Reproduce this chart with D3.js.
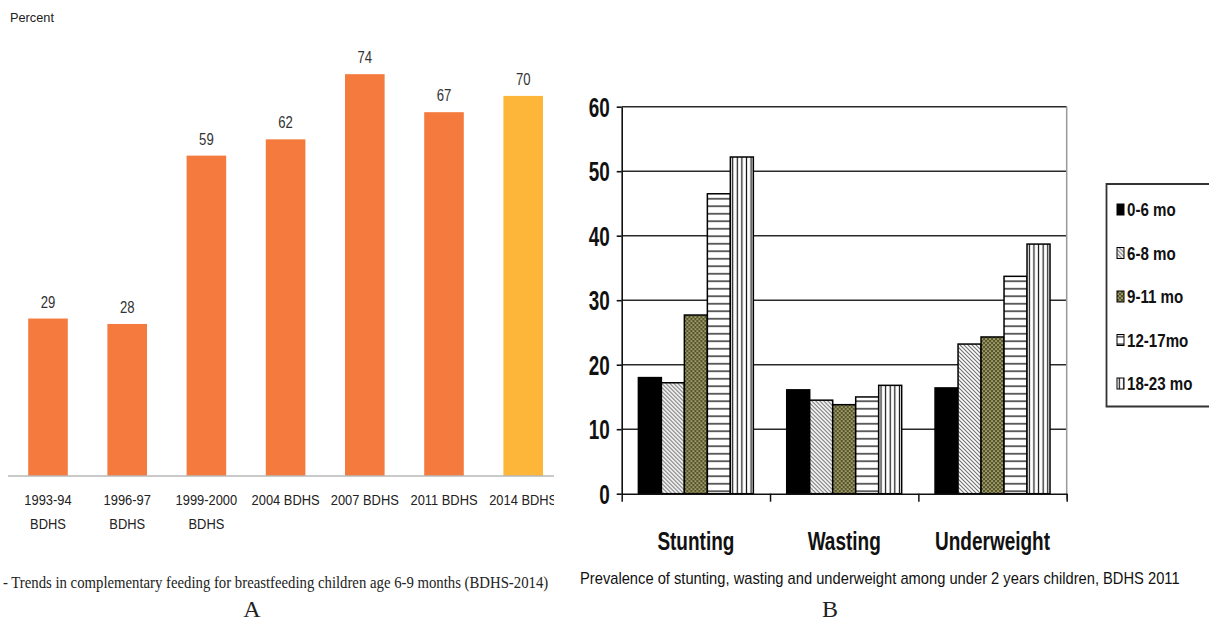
<!DOCTYPE html>
<html>
<head>
<meta charset="utf-8">
<script src="https://cdn.jsdelivr.net/npm/d3@7"></script>
<style>
  html, body { margin: 0; padding: 0; background: #fff; }
  svg { display: block; }
</style>
</head>
<body>
<svg id="fig" width="1209" height="623"></svg>
<script>
// ---- Panel A: complementary feeding trend ----
const surveys = ["1993-94\nBDHS", "1996-97\nBDHS", "1999-2000\nBDHS", "2004 BDHS", "2007 BDHS", "2011 BDHS", "2014 BDHS"];
const feedingPct = [29, 28, 59, 62, 74, 67, 70];
const feedingColors = ["#f47a3d", "#f47a3d", "#f47a3d", "#f47a3d", "#f47a3d", "#f47a3d", "#fdb53a"];

// ---- Panel B: undernutrition by age group ----
const indicators = ["Stunting", "Wasting", "Underweight"];
const ageGroups = ["0-6 mo", "6-8 mo", "9-11 mo", "12-17mo", "18-23 mo"];
const age0to6 = [18.0, 16.1, 16.4];
const age6to8 = [17.2, 14.5, 23.2];
const age9to11 = [27.7, 13.8, 24.3];
const age12to17 = [46.5, 15.0, 33.7];
const age18to23 = [52.2, 16.8, 38.7];
const yTicksB = [0, 10, 20, 30, 40, 50, 60];

const svg = d3.select("#fig");
const defs = svg.append("defs");

// fill patterns for the age groups
const hatch = defs.append("pattern").attr("id", "pHatch").attr("patternUnits", "userSpaceOnUse")
  .attr("width", 4).attr("height", 4);
hatch.append("rect").attr("width", 4).attr("height", 4).attr("fill", "#fff");
hatch.append("path").attr("d", "M-1,-1L5,5M-1,3L1,5M3,-1L5,1").attr("stroke", "#6e6e6e").attr("stroke-width", 1.1);

const dots = defs.append("pattern").attr("id", "pDots").attr("patternUnits", "userSpaceOnUse")
  .attr("width", 4).attr("height", 4);
dots.append("rect").attr("width", 4).attr("height", 4).attr("fill", "#57562a");
dots.append("circle").attr("cx", 1).attr("cy", 1).attr("r", 0.85).attr("fill", "#d4d0a0");
dots.append("circle").attr("cx", 3).attr("cy", 3).attr("r", 0.85).attr("fill", "#d4d0a0");

const hlines = defs.append("pattern").attr("id", "pHoriz").attr("patternUnits", "userSpaceOnUse")
  .attr("width", 10).attr("height", 7.5);
hlines.append("rect").attr("width", 10).attr("height", 7.5).attr("fill", "#fff");
hlines.append("line").attr("x1", 0).attr("x2", 10).attr("y1", 3.75).attr("y2", 3.75)
  .attr("stroke", "#111").attr("stroke-width", 1.3);

const vlines = defs.append("pattern").attr("id", "pVert").attr("patternUnits", "userSpaceOnUse")
  .attr("width", 4.6).attr("height", 10);
vlines.append("rect").attr("width", 4.6).attr("height", 10).attr("fill", "#fff");
vlines.append("line").attr("x1", 2.3).attr("x2", 2.3).attr("y1", 0).attr("y2", 10)
  .attr("stroke", "#111").attr("stroke-width", 1.2);

const ageFills = ["#000", "url(#pHatch)", "url(#pDots)", "url(#pHoriz)", "url(#pVert)"];

defs.append("clipPath").attr("id", "clipA").append("rect")
  .attr("x", 0).attr("y", 0).attr("width", 554).attr("height", 560);

// squeeze a text horizontally so that it spans the given width
function fitWidth(sel, width) {
  const len = sel.node().getComputedTextLength();
  return len > 0 ? width / len : 1;
}

// ================= Panel A =================
const gA = svg.append("g").attr("clip-path", "url(#clipA)");

const xA = d3.scaleBand().domain(surveys).range([8.4, 562.8]).paddingInner(0.5).paddingOuter(0.25);
const yA = d3.scaleLinear().domain([0, 80]).range([476, 41.6]);

gA.append("text").attr("x", 10).attr("y", 22)
  .attr("font-family", "Liberation Sans, Arial, sans-serif").attr("font-size", 12).attr("fill", "#222")
  .attr("textLength", 44).attr("lengthAdjust", "spacingAndGlyphs")
  .text("Percent");

gA.selectAll("rect.barA").data(surveys).join("rect").attr("class", "barA")
  .attr("x", d => xA(d)).attr("width", xA.bandwidth())
  .attr("y", (d, i) => yA(feedingPct[i])).attr("height", (d, i) => yA(0) - yA(feedingPct[i]))
  .attr("fill", (d, i) => feedingColors[i]);

gA.selectAll("g.valA").data(surveys).join("g").attr("class", "valA")
  .attr("transform", (d, i) => `translate(${xA(d) + xA.bandwidth() / 2},${yA(feedingPct[i]) - 11}) scale(0.82,1)`)
  .append("text").attr("text-anchor", "middle")
  .attr("font-family", "Liberation Sans, Arial, sans-serif").attr("font-size", 16).attr("fill", "#333")
  .text((d, i) => feedingPct[i]);

const axA = gA.append("g").attr("transform", `translate(0,${yA(0)})`)
  .call(d3.axisBottom(xA).tickSize(0).tickSizeOuter(0).tickFormat(""));
axA.select(".domain").attr("stroke", "#b9b9b9").attr("stroke-width", 1.5)
  .attr("d", `M8,0H562`);

const tickA = gA.selectAll("g.tickA").data(surveys).join("g").attr("class", "tickA")
  .attr("transform", d => `translate(${xA(d) + xA.bandwidth() / 2},0) scale(0.86,1)`);
tickA.each(function (d) {
  const lines = d.split("\n");
  d3.select(this).selectAll("text").data(lines).join("text")
    .attr("x", 0).attr("y", (l, j) => 505 + j * 24)
    .attr("text-anchor", "middle")
    .attr("font-family", "Liberation Sans, Arial, sans-serif").attr("font-size", 15).attr("fill", "#222")
    .text(l => l);
});

const capAg = svg.append("g");
const capA = capAg.append("text").attr("x", 0).attr("y", 0)
  .attr("font-family", "Liberation Serif, Times New Roman, serif").attr("font-size", 16).attr("fill", "#222")
  .text("- Trends in complementary feeding for breastfeeding children age 6-9 months (BDHS-2014)");
capAg.attr("transform", `translate(3,588) scale(${fitWidth(capA, 546)},1)`);

svg.append("text").attr("x", 252).attr("y", 617).attr("text-anchor", "middle")
  .attr("font-family", "Liberation Serif, Times New Roman, serif").attr("font-size", 24).attr("fill", "#222")
  .text("A");

// ================= Panel B =================
const left = 621.7, right = 1066.7;
const x0 = d3.scaleBand().domain(indicators).range([left, right]).paddingInner(0.225).paddingOuter(0.1125);
const x1 = d3.scaleBand().domain(ageGroups).range([0, x0.bandwidth()]);
const yB = d3.scaleLinear().domain([0, 60]).range([493.7, 106.7]);
const seriesB = [age0to6, age6to8, age9to11, age12to17, age18to23];

const gB = svg.append("g");

// horizontal gridlines
gB.selectAll("line.grid").data(yTicksB.filter(t => t > 0)).join("line").attr("class", "grid")
  .attr("x1", left).attr("x2", right).attr("y1", d => yB(d)).attr("y2", d => yB(d))
  .attr("stroke", "#2a2a2a").attr("stroke-width", 1.6);

// right frame edge
gB.append("line").attr("x1", right).attr("x2", right).attr("y1", yB(60)).attr("y2", yB(0) + 6)
  .attr("stroke", "#9a9a9a").attr("stroke-width", 1.5);

// grouped bars
const groups = gB.selectAll("g.grp").data(indicators).join("g").attr("class", "grp")
  .attr("transform", d => `translate(${x0(d)},0)`);
groups.each(function (ind, gi) {
  d3.select(this).selectAll("rect").data(ageGroups).join("rect")
    .attr("x", a => x1(a)).attr("width", x1.bandwidth())
    .attr("y", (a, si) => yB(seriesB[si][gi]))
    .attr("height", (a, si) => yB(0) - yB(seriesB[si][gi]))
    .attr("fill", (a, si) => ageFills[si])
    .attr("stroke", "#000").attr("stroke-width", 1.5);
});

// left axis
const axL = gB.append("g").attr("transform", `translate(${left},0)`)
  .call(d3.axisLeft(yB).tickValues(yTicksB).tickSize(5).tickSizeOuter(0));
axL.select(".domain").attr("stroke", "#111").attr("stroke-width", 1.6);
axL.selectAll(".tick line").attr("stroke", "#111").attr("stroke-width", 1.6);
axL.selectAll(".tick text")
  .attr("x", 0).attr("dy", "0.36em")
  .attr("transform", "translate(-12,0) scale(0.7,1)")
  .attr("font-family", "Liberation Sans, Arial, sans-serif").attr("font-size", 27).attr("font-weight", "bold")
  .attr("fill", "#111");

// bottom axis with ticks on group boundaries
const xEdge = d3.scaleLinear().domain([0, indicators.length]).range([left, right]);
const axBot = gB.append("g").attr("transform", `translate(0,${yB(0)})`)
  .call(d3.axisBottom(xEdge).tickValues(d3.range(indicators.length + 1)).tickSize(8).tickSizeOuter(0).tickFormat(""));
axBot.select(".domain").attr("stroke", "#111").attr("stroke-width", 1.6);
axBot.selectAll(".tick line").attr("stroke", "#111").attr("stroke-width", 1.5);

// category labels
gB.selectAll("g.catB").data(indicators).join("g").attr("class", "catB")
  .attr("transform", d => `translate(${x0(d) + x0.bandwidth() / 2},550) scale(0.76,1)`)
  .append("text").attr("text-anchor", "middle")
  .attr("font-family", "Liberation Sans, Arial, sans-serif").attr("font-size", 25).attr("font-weight", "bold")
  .attr("fill", "#111").text(d => d);

// legend
const leg = gB.append("g");
leg.append("path").attr("d", "M1215,184H1106.5V406.5H1215")
  .attr("fill", "#fff").attr("stroke", "#333").attr("stroke-width", 1.8);
const legItems = leg.selectAll("g.li").data(ageGroups).join("g").attr("class", "li")
  .attr("transform", (d, i) => `translate(1117,${210 + i * 43.5})`);
legItems.append("rect").attr("x", 0).attr("y", -6).attr("width", 7).attr("height", 11)
  .attr("fill", (d, i) => ageFills[i]).attr("stroke", "#000").attr("stroke-width", 1);
legItems.append("g").attr("transform", "translate(10,6) scale(0.84,1)")
  .append("text").attr("font-family", "Liberation Sans, Arial, sans-serif").attr("font-size", 18)
  .attr("font-weight", "bold").attr("fill", "#111").text(d => d);

// caption
const capBg = svg.append("g");
const capB = capBg.append("text").attr("x", 0).attr("y", 0)
  .attr("font-family", "Liberation Sans, Arial, sans-serif").attr("font-size", 16).attr("fill", "#111")
  .text("Prevalence of stunting, wasting and underweight among under 2 years children, BDHS 2011");
capBg.attr("transform", `translate(580,584) scale(${fitWidth(capB, 600)},1)`);

svg.append("text").attr("x", 830).attr("y", 617).attr("text-anchor", "middle")
  .attr("font-family", "Liberation Serif, Times New Roman, serif").attr("font-size", 24).attr("fill", "#222")
  .text("B");
</script>
</body>
</html>
